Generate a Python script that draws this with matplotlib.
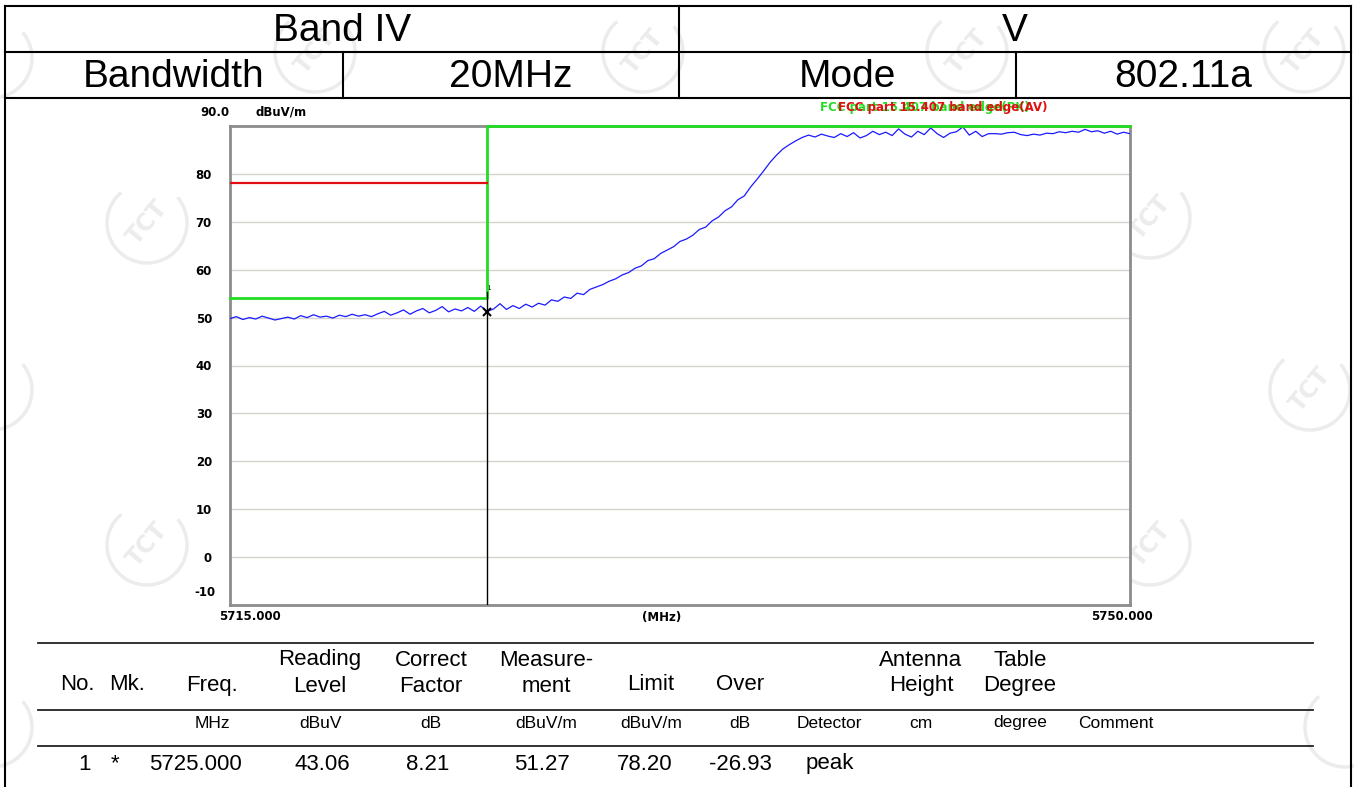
import numpy as np
import matplotlib
matplotlib.use("Agg")
import matplotlib.pyplot as plt
from matplotlib.patches import Arc

# header table
band = "Band IV"
polarization = "V"
bandwidth = "20MHz"
mode = "802.11a"

f_start, f_stop = 5715.0, 5750.0
level = [
    49.8, 50.2, 49.6, 50.0, 49.7, 50.3, 49.9, 49.5, 49.8, 50.1,
    49.7, 50.4, 50.0, 50.6, 50.1, 50.3, 49.9, 50.5, 50.2, 50.7,
    50.3, 50.6, 50.2, 50.8, 51.3, 50.5, 51.0, 51.6, 50.7, 51.4,
    51.9, 51.0, 51.5, 52.3, 51.2, 51.8, 51.4, 52.1, 51.3, 52.4,
    51.3, 51.8, 52.9, 51.7, 52.5, 51.9, 52.8, 52.2, 53.0, 52.6,
    53.7, 53.4, 54.3, 54.0, 55.1, 54.8, 55.9, 56.4, 56.9, 57.6,
    58.1, 58.9, 59.4, 60.3, 60.8, 61.9, 62.3, 63.4, 64.1, 64.8,
    65.9, 66.4, 67.2, 68.4, 68.9, 70.2, 71.0, 72.3, 73.1, 74.6,
    75.4, 77.3, 78.9, 80.6, 82.4, 83.9, 85.2, 86.1, 86.9, 87.6,
    88.1, 87.7, 88.3, 87.9, 87.6, 88.4, 87.8, 88.6, 87.5, 88.0,
    88.9, 88.2, 88.7, 88.0, 89.4, 88.3, 87.7, 88.9, 88.2, 89.6,
    88.4, 87.6, 88.5, 88.8, 89.8, 88.1, 88.9, 87.8, 88.4, 88.4,
    88.3, 88.6, 88.7, 88.2, 88.0, 88.3, 88.1, 88.5, 88.4, 88.8,
    88.6, 88.9, 88.7, 89.3, 88.8, 89.0, 88.5, 88.9, 88.3, 88.7,
    88.4,
]
freq = np.linspace(f_start, f_stop, len(level))

# limit lines
pk_freq = [5715, 5725, 5725, 5750]
pk_level = [54.0, 54.0, 90.0, 90.0]
av_freq = [5715, 5725]
av_level = [78.2, 78.2]
pk_name = "FCC part 15.407 band edge(PK)"
av_name = "FCC part 15.407 band edge(AV)"

# marker
mk_freq = 5725.0
mk_level = 51.27

y_ticks = [0, 10, 20, 30, 40, 50, 60, 70, 80]

# result table
hdr_top = ["", "", "", "Reading", "Correct", "Measure-", "", "", "", "Antenna", "Table", ""]
hdr_bot = ["No.", "Mk.", "Freq.", "Level", "Factor", "ment", "Limit", "Over", "", "Height", "Degree", ""]
units = ["", "", "MHz", "dBuV", "dB", "dBuV/m", "dBuV/m", "dB", "Detector", "cm", "degree", "Comment"]
row1 = ["1", "*", "5725.000", "43.06", "8.21", "51.27", "78.20", "-26.93", "peak", "", "", ""]

fig = plt.figure(figsize=(13.54, 7.87), dpi=100)
bg = fig.add_axes([0, 0, 1, 1])
bg.set_xlim(0, 1354)
bg.set_ylim(787, 0)
bg.axis("off")

tf = "Liberation Sans"
lw2 = 1.5

# outer frame and header grid
for ys in [6, 52, 98]:
    bg.plot([5, 1351], [ys, ys], color="black", lw=lw2)
bg.plot([5, 5], [6, 787], color="black", lw=lw2)
bg.plot([1351, 1351], [6, 787], color="black", lw=lw2)
bg.plot([679, 679], [6, 98], color="black", lw=lw2)
bg.plot([343, 343], [52, 98], color="black", lw=lw2)
bg.plot([1016, 1016], [52, 98], color="black", lw=lw2)

bg.text(342, 31, band, fontsize=28, family=tf, ha="center", va="center")
bg.text(1015, 31, polarization, fontsize=28, family=tf, ha="center", va="center")
bg.text(174, 77, "Bandwidth", fontsize=28, family=tf, ha="center", va="center")
bg.text(511, 77, bandwidth, fontsize=28, family=tf, ha="center", va="center")
bg.text(847, 77, "Mode", fontsize=28, family=tf, ha="center", va="center")
bg.text(1183, 77, mode, fontsize=28, family=tf, ha="center", va="center")

# watermarks (faint logo stamps)
wm = "#ececec"
for cx, cy, full in [(-8, 58, False), (315, 52, True), (643, 52, True), (967, 52, True),
                     (1304, 52, True), (147, 223, True), (1150, 218, True),
                     (-8, 390, False), (1310, 390, True), (147, 545, True),
                     (1150, 545, True), (-8, 727, False), (1345, 727, False)]:
    bg.add_patch(Arc((cx, cy), 80, 80, theta1=-40, theta2=230, color=wm, lw=2.5, zorder=0))
    if full:
        bg.text(cx, cy, "TCT", fontsize=17, color=wm, rotation=50, ha="center",
                va="center", family="DejaVu Sans", fontweight="bold", zorder=0)

# result table
for ys in [643, 710, 746]:
    bg.plot([38, 1313], [ys, ys], color="#222222", lw=1.3)
col_x = [77, 127, 212, 320, 431, 546, 651, 740, 829, 921, 1020, 1116]
for i, x in enumerate(col_x):
    if hdr_top[i]:
        bg.text(x, 660, hdr_top[i], fontsize=16, family=tf, ha="center", va="center")
        bg.text(x, 686, hdr_bot[i], fontsize=16, family=tf, ha="center", va="center")
    elif hdr_bot[i]:
        bg.text(x, 685, hdr_bot[i], fontsize=16, family=tf, ha="center", va="center")
    bg.text(x, 723, units[i], fontsize=12.5, family=tf, ha="center", va="center")
for i, x in enumerate(col_x):
    dx = {0: 8, 1: -12, 2: -17, 3: 2, 4: -3, 5: -4, 6: -6, 8: 1}.get(i, 0)
    bg.text(x + dx, 764, row1[i], fontsize=16, family=tf, ha="center", va="center")

# chart
ax = fig.add_axes([230 / 1354, (787 - 605) / 787, 900 / 1354, 479 / 787])
ax.set_facecolor("white")
ax.set_xlim(f_start, f_stop)
ax.set_ylim(-10, 90)
for s in ax.spines.values():
    s.set_color("#8c8c8c")
    s.set_linewidth(2)
ax.set_xticks([])
ax.set_yticks(y_ticks)
ax.set_yticklabels([str(v) for v in y_ticks])
ax.tick_params(axis="y", length=0, pad=13, labelsize=8.5)
for lab in ax.get_yticklabels():
    lab.set_fontweight("bold")
ax.grid(axis="y", color="#d6d2cc", lw=1)

ax.plot(freq, level, color="#1a1aff", lw=0.9, zorder=3)
ax.plot(pk_freq, pk_level, color="#22dd22", lw=2, zorder=4, clip_on=False)
ax.plot(av_freq, av_level, color="#e01010", lw=1.6, zorder=4)
ax.plot([mk_freq, mk_freq], [-10, 55.3], color="black", lw=1, zorder=5)
ax.plot([mk_freq], [mk_level], marker="x", color="black", ms=6, mew=1.5, zorder=6)
ax.text(mk_freq + 0.05, 55.6, "1", fontsize=5, color="black", ha="center", va="bottom")

bold = dict(fontsize=8.5, fontweight="bold", family="DejaVu Sans")
ax.text(-15 / 900, 1 + 14 / 479, "90.0", ha="center", va="center", transform=ax.transAxes, **bold)
ax.text(25 / 900, 1 + 14 / 479, "dBuV/m", ha="left", va="center", transform=ax.transAxes, **bold)
ax.text(-25 / 900, 13 / 479, "-10", ha="center", va="center", transform=ax.transAxes, **bold)
ax.text(20 / 900, -12 / 479, "5715.000", ha="center", va="center", transform=ax.transAxes, **bold)
ax.text(432 / 900, -12 / 479, "(MHz)", ha="center", va="center", transform=ax.transAxes, **bold)
ax.text(892 / 900, -12 / 479, "5750.000", ha="center", va="center", transform=ax.transAxes, **bold)
ax.text(590 / 900, 1 + 18 / 479, pk_name, color="#22dd22", ha="left", va="center",
        transform=ax.transAxes, **bold)
ax.text(608 / 900, 1 + 18 / 479, av_name, color="#e01010", ha="left", va="center",
        transform=ax.transAxes, **bold)

fig.savefig("out.png", dpi=100)
